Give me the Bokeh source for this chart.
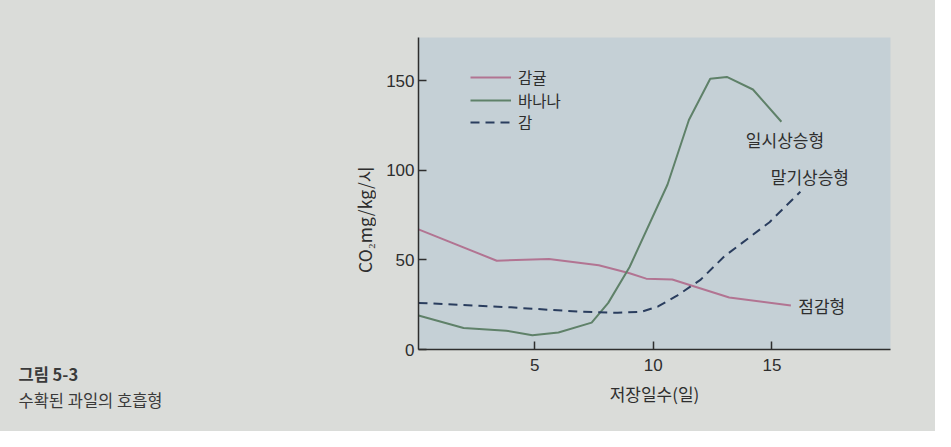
from bokeh.plotting import figure
from bokeh.layouts import row
from bokeh.models import Range1d, FixedTicker, Label, Legend, LegendItem, Title
from bokeh.core.properties import value
from bokeh.embed import file_html
from bokeh.resources import INLINE

# --- data ---
citrus_x = [0.1, 3.4, 5.6, 7.7, 9.0, 9.7, 10.8, 13.2, 15.8]
citrus_y = [67, 49.5, 50.5, 47, 42.5, 39.5, 39, 29, 24.5]

banana_x = [0.1, 2.0, 3.8, 4.9, 6.0, 7.4, 8.1, 9.0, 10.6, 11.5, 12.4, 13.1, 14.2, 15.4]
banana_y = [19, 12, 10.5, 8, 9.5, 15, 26, 46, 92, 128, 151, 152, 145, 127]

kaki_x = [0.1, 4.0, 7.0, 8.5, 9.5, 10.2, 11.0, 12.0, 13.0, 14.0, 14.9, 16.2]
kaki_y = [26, 23.5, 21, 20.5, 21, 24, 30, 39, 52, 62, 71, 88]

series_names = ["감귤", "바나나", "감"]
type_names = ["일시상승형", "말기상승형", "점감형"]
x_ticks = [5, 10, 15]
y_ticks = [0, 50, 100, 150]
y_title = "CO₂mg/kg/시"
x_title = "저장일수(일)"
caption_title = "그림 5-3"
caption_text = "수확된 과일의 호흡형"

KR = "Noto Sans CJK KR"
NUM = "Liberation Sans"
PAGE = "#dadcd9"
PLOT = "#c5d0d6"
INK = "#2e2e2e"

W, H = 935, 431
LW = 376
TOP, BOTTOM = 37, 82

# ---- left panel: caption + y title ----
left = figure(width=LW, height=H, output_backend="svg", toolbar_location=None,
              x_range=Range1d(0, LW), y_range=Range1d(H - BOTTOM, TOP),
              x_axis_location=None, y_axis_location=None,
              min_border=0, min_border_left=0, min_border_right=0,
              min_border_top=TOP, min_border_bottom=BOTTOM)
left.background_fill_alpha = 0
left.border_fill_alpha = 0
left.outline_line_color = None
left.xgrid.visible = False
left.ygrid.visible = False
left.text(x=[364], y=[219], text=[y_title], angle=1.5708, text_font=value(KR),
          text_font_size="17.5px", text_color=INK, text_align="center", text_baseline="middle")
left.add_layout(Title(text=" ", align="left", offset=18, standoff=6,
                      text_font=KR, text_font_size="1.5px"), "below")
left.add_layout(Title(text=caption_title, align="left", offset=18, standoff=0,
                      text_font=KR, text_font_style="bold", text_font_size="16.5px",
                      text_color="#3a3a3a"), "below")
left.add_layout(Title(text=caption_text, align="left", offset=18, standoff=0,
                      text_font=KR, text_font_style="normal", text_font_size="16.5px",
                      text_color="#3a3a3a"), "below")

# ---- main chart ----
p = figure(width=W - LW, height=H, output_backend="svg", toolbar_location=None,
           x_range=Range1d(0.1, 20), y_range=Range1d(0, 174),
           min_border_left=42, min_border_right=45, min_border_top=TOP, min_border_bottom=BOTTOM)
p.background_fill_color = PLOT
p.border_fill_color = PAGE
p.outline_line_color = None
p.xgrid.visible = False
p.ygrid.visible = False

r1 = p.line(citrus_x, citrus_y, line_color="#b27492", line_width=2)
r2 = p.line(banana_x, banana_y, line_color="#5f8169", line_width=2)
r3 = p.line(kaki_x, kaki_y, line_color="#2a3d5e", line_width=2, line_dash="9 6")

for ax in (p.xaxis[0], p.yaxis[0]):
    ax.axis_line_color = INK
    ax.axis_line_width = 1.5
    ax.major_tick_line_color = INK
    ax.major_tick_line_width = 1.5
    ax.major_tick_in = 8
    ax.major_tick_out = 0
    ax.minor_tick_line_color = None
    ax.major_label_text_font = NUM
    ax.major_label_text_font_size = "17px"
    ax.major_label_text_color = INK

p.xaxis.ticker = FixedTicker(ticks=x_ticks)
p.yaxis.ticker = FixedTicker(ticks=y_ticks)
p.xaxis.major_label_standoff = 9
p.yaxis.major_label_standoff = 4
p.xaxis.axis_label = x_title
p.xaxis.axis_label_text_font = KR
p.xaxis.axis_label_text_font_style = "normal"
p.xaxis.axis_label_text_font_size = "17px"
p.xaxis.axis_label_text_color = INK
p.xaxis.axis_label_standoff = 7

# one legend box per series, so the row pitch matches the reference
for name, rend, loc in zip(series_names, [r1, r2, r3], [(52, 261), (52, 238), (52, 216)]):
    lg = Legend(items=[LegendItem(label=name, renderers=[rend])], location=loc)
    lg.background_fill_alpha = 0
    lg.border_line_color = None
    lg.padding = 0
    lg.margin = 0
    lg.glyph_width = 41
    lg.glyph_height = 18
    lg.label_height = 18
    lg.label_standoff = 7
    lg.label_text_font = KR
    lg.label_text_font_size = "15.5px"
    lg.label_text_color = INK
    p.add_layout(lg)

for name, (lx, ly) in zip(type_names, [(15.55, 117), (16.6, 96.5), (17.1, 24.5)]):
    p.add_layout(Label(x=lx, y=ly, text=name, text_font=KR, text_font_size="17px",
                       text_color=INK, text_align="center", text_baseline="middle"))

layout = row(left, p, spacing=0, styles={"background-color": PAGE})
open("out.html", "w").write(file_html(layout, INLINE))
